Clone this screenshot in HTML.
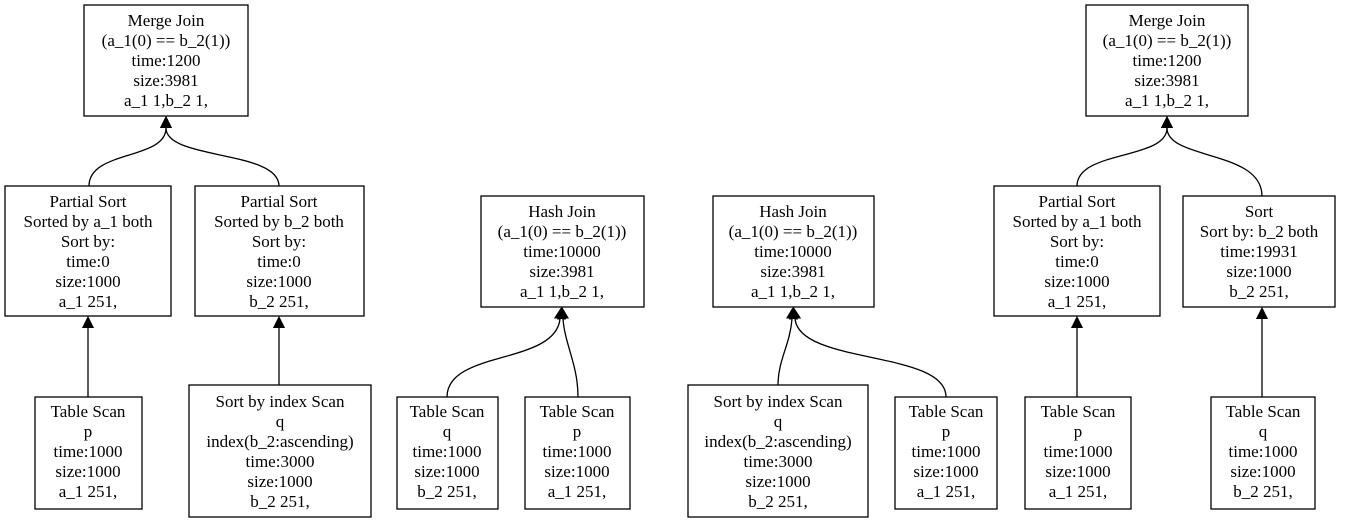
<!DOCTYPE html>
<html><head><meta charset="utf-8"><style>
html,body{margin:0;padding:0;background:#fff;}
svg{display:block;}
text{font-family:"Liberation Serif","Times New Roman",serif;font-size:17px;fill:#000;text-anchor:middle;}
rect{fill:none;stroke:#000;stroke-width:1.3;}
path.e{fill:none;stroke:#000;stroke-width:1.3;}
path.h{fill:#000;stroke:#000;stroke-width:1;}
</style></head><body>
<svg width="1345" height="523" viewBox="0 0 1345 523" xmlns="http://www.w3.org/2000/svg">
<defs><marker id="a" markerWidth="12" markerHeight="12" refX="0" refY="6" orient="auto" markerUnits="userSpaceOnUse"><path class="h" d="M0,0.5 L11,6 L0,11.5 Z"/></marker></defs>

<!-- Tree 1 -->
<rect x="84" y="5" width="164" height="111"/>
<text x="166" y="26">Merge Join</text><text x="166" y="46">(a_1(0) == b_2(1))</text><text x="166" y="66">time:1200</text><text x="166" y="86">size:3981</text><text x="166" y="106">a_1 1,b_2 1,</text>
<rect x="5" y="186" width="166" height="130"/>
<text x="88" y="207">Partial Sort</text><text x="88" y="227">Sorted by a_1 both</text><text x="88" y="247">Sort by:</text><text x="88" y="267"> time:0</text><text x="88" y="287">size:1000</text><text x="88" y="307">a_1 251,</text>
<rect x="195" y="186" width="169" height="130"/>
<text x="279" y="207">Partial Sort</text><text x="279" y="227">Sorted by b_2 both</text><text x="279" y="247">Sort by:</text><text x="279" y="267"> time:0</text><text x="279" y="287">size:1000</text><text x="279" y="307">b_2 251,</text>
<rect x="35" y="397" width="107" height="112"/>
<text x="88" y="417">Table Scan</text><text x="88" y="437">p</text><text x="88" y="457">time:1000</text><text x="88" y="477">size:1000</text><text x="88" y="497">a_1 251,</text>
<rect x="189" y="385" width="182" height="132"/>
<text x="280" y="407">Sort by index Scan</text><text x="280" y="427">q</text><text x="280" y="447">index(b_2:ascending)</text><text x="280" y="467">time:3000</text><text x="280" y="487">size:1000</text><text x="280" y="507">b_2 251,</text>
<path class="e" d="M89,186 C89,150 166,160 166,128" marker-end="url(#a)"/>
<path class="e" d="M279,186 C279,150 166,160 166,128" marker-end="url(#a)"/>
<path class="e" d="M88,397 L88,328" marker-end="url(#a)"/>
<path class="e" d="M279,385 L279,328" marker-end="url(#a)"/>

<!-- Tree 2 -->
<rect x="481" y="196" width="163" height="111"/>
<text x="562" y="217">Hash Join</text><text x="562" y="237">(a_1(0) == b_2(1))</text><text x="562" y="257">time:10000</text><text x="562" y="277">size:3981</text><text x="562" y="297">a_1 1,b_2 1,</text>
<rect x="397" y="397" width="101" height="112"/>
<text x="447" y="417">Table Scan</text><text x="447" y="437">q</text><text x="447" y="457">time:1000</text><text x="447" y="477">size:1000</text><text x="447" y="497">b_2 251,</text>
<rect x="525" y="397" width="105" height="112"/>
<text x="577" y="417">Table Scan</text><text x="577" y="437">p</text><text x="577" y="457">time:1000</text><text x="577" y="477">size:1000</text><text x="577" y="497">a_1 251,</text>
<path class="e" d="M447,397 C447,350 555,365 560,319" marker-end="url(#a)"/>
<path class="e" d="M578,397 C578,365 565,345 563,319" marker-end="url(#a)"/>

<!-- Tree 3 -->
<rect x="713" y="196" width="161" height="111"/>
<text x="793" y="217">Hash Join</text><text x="793" y="237">(a_1(0) == b_2(1))</text><text x="793" y="257">time:10000</text><text x="793" y="277">size:3981</text><text x="793" y="297">a_1 1,b_2 1,</text>
<rect x="688" y="385" width="180" height="132"/>
<text x="778" y="407">Sort by index Scan</text><text x="778" y="427">q</text><text x="778" y="447">index(b_2:ascending)</text><text x="778" y="467">time:3000</text><text x="778" y="487">size:1000</text><text x="778" y="507">b_2 251,</text>
<rect x="895" y="397" width="102" height="112"/>
<text x="946" y="417">Table Scan</text><text x="946" y="437">p</text><text x="946" y="457">time:1000</text><text x="946" y="477">size:1000</text><text x="946" y="497">a_1 251,</text>
<path class="e" d="M778,385 C778,360 790,345 792,319" marker-end="url(#a)"/>
<path class="e" d="M946,397 C946,350 800,365 795,319" marker-end="url(#a)"/>

<!-- Tree 4 -->
<rect x="1086" y="5" width="162" height="111"/>
<text x="1167" y="26">Merge Join</text><text x="1167" y="46">(a_1(0) == b_2(1))</text><text x="1167" y="66">time:1200</text><text x="1167" y="86">size:3981</text><text x="1167" y="106">a_1 1,b_2 1,</text>
<rect x="994" y="186" width="166" height="130"/>
<text x="1077" y="207">Partial Sort</text><text x="1077" y="227">Sorted by a_1 both</text><text x="1077" y="247">Sort by:</text><text x="1077" y="267"> time:0</text><text x="1077" y="287">size:1000</text><text x="1077" y="307">a_1 251,</text>
<rect x="1183" y="196" width="152" height="111"/>
<text x="1259" y="217">Sort</text><text x="1259" y="237">Sort by: b_2 both</text><text x="1259" y="257">time:19931</text><text x="1259" y="277">size:1000</text><text x="1259" y="297">b_2 251,</text>
<rect x="1025" y="397" width="106" height="112"/>
<text x="1078" y="417">Table Scan</text><text x="1078" y="437">p</text><text x="1078" y="457">time:1000</text><text x="1078" y="477">size:1000</text><text x="1078" y="497">a_1 251,</text>
<rect x="1211" y="397" width="104" height="112"/>
<text x="1263" y="417">Table Scan</text><text x="1263" y="437">q</text><text x="1263" y="457">time:1000</text><text x="1263" y="477">size:1000</text><text x="1263" y="497">b_2 251,</text>
<path class="e" d="M1077,186 C1077,150 1167,160 1167,128" marker-end="url(#a)"/>
<path class="e" d="M1262,196 C1262,150 1167,160 1167,128" marker-end="url(#a)"/>
<path class="e" d="M1077,397 L1077,328" marker-end="url(#a)"/>
<path class="e" d="M1262,397 L1262,319" marker-end="url(#a)"/>
</svg>
</body></html>
